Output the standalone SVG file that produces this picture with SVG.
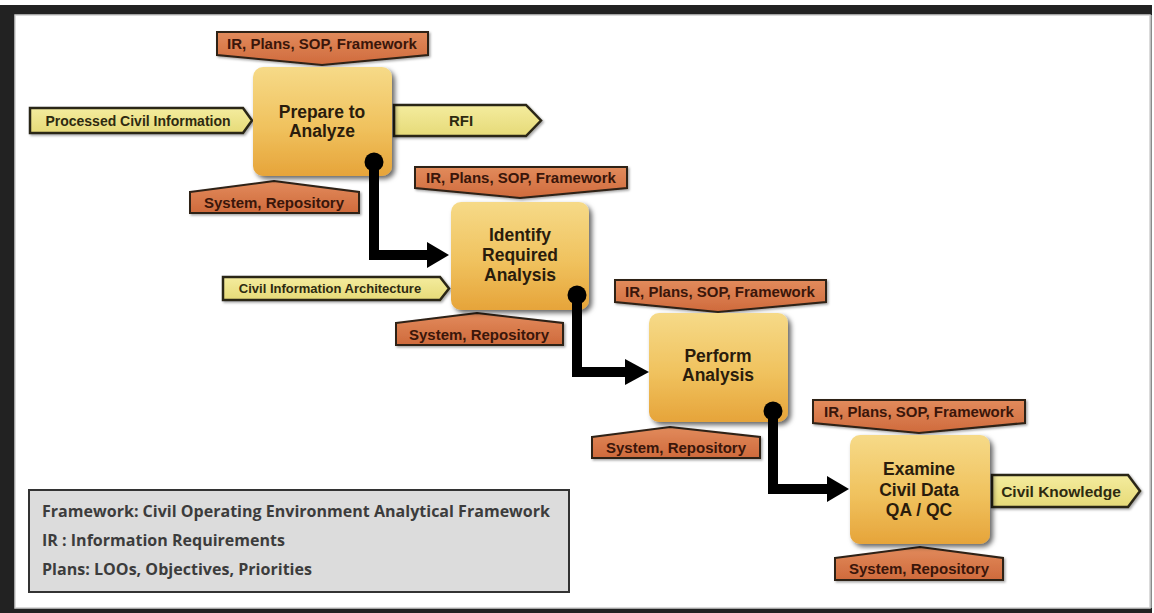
<svg xmlns="http://www.w3.org/2000/svg" width="1154" height="613" viewBox="0 0 1154 613">
<defs>
<linearGradient id="gBox" x1="0" y1="0" x2="0" y2="1">
<stop offset="0" stop-color="#f6da88"/>
<stop offset="0.55" stop-color="#f0c25e"/>
<stop offset="1" stop-color="#e6a43a"/>
</linearGradient>
<linearGradient id="gLab" x1="0" y1="0" x2="0" y2="1">
<stop offset="0" stop-color="#e28b5c"/>
<stop offset="1" stop-color="#cf6a3c"/>
</linearGradient>
<linearGradient id="gIn" x1="0" y1="0" x2="0" y2="1">
<stop offset="0" stop-color="#f4ec9e"/>
<stop offset="1" stop-color="#e6da78"/>
</linearGradient>
<filter id="sh" x="-20%" y="-20%" width="150%" height="150%">
<feDropShadow dx="3" dy="3" stdDeviation="2.5" flood-color="#000" flood-opacity="0.6"/>
</filter>
<filter id="sh2" x="-10%" y="-30%" width="120%" height="170%">
<feDropShadow dx="1.5" dy="1.5" stdDeviation="1" flood-color="#000" flood-opacity="0.35"/>
</filter>
</defs>
<style>
.box{fill:url(#gBox);filter:url(#sh);}
.bt{font-family:"Liberation Sans",Arial,sans-serif;font-weight:bold;font-size:17.5px;fill:#2a1c0c;text-anchor:middle;}
.lab{fill:url(#gLab);stroke:#2e2118;stroke-width:2;stroke-linejoin:miter;filter:url(#sh2);}
.lt{font-family:"Liberation Sans",Arial,sans-serif;font-weight:bold;font-size:15px;fill:#3a160a;text-anchor:middle;}
.inp{fill:url(#gIn);stroke:#2a2618;stroke-width:2.5;filter:url(#sh2);}
.it{font-family:"Liberation Sans",Arial,sans-serif;font-weight:bold;fill:#2e2a10;text-anchor:middle;}
.con{fill:none;stroke:#000;stroke-width:10;stroke-linejoin:miter;}
.leg{font-family:"Open Sans",sans-serif;font-weight:700;font-size:15.5px;fill:#3c3c3c;}
</style>
<rect x="0" y="0" width="1154" height="613" fill="#ffffff"/>
<rect x="0" y="5" width="1154" height="608" fill="#222222"/>
<rect x="15" y="15" width="1137" height="593" fill="#ffffff"/>
<rect x="1150" y="15" width="2" height="593" fill="#8a8a8a"/>
<rect x="1152" y="5" width="2" height="608" fill="#ffffff"/>
<rect x="15" y="15" width="1135" height="593" fill="none" stroke="#cfcfcf" stroke-width="1.5"/>

<g id="legend">
<rect x="29" y="490" width="540" height="102" fill="#dcdcdc" stroke="#333" stroke-width="2"/>
<text class="leg" x="42" y="517" textLength="508" lengthAdjust="spacingAndGlyphs">Framework: Civil Operating Environment Analytical Framework</text>
<text class="leg" x="42" y="546" textLength="243" lengthAdjust="spacingAndGlyphs">IR : Information Requirements</text>
<text class="leg" x="42" y="575" textLength="270" lengthAdjust="spacingAndGlyphs">Plans: LOOs, Objectives, Priorities</text>
</g>

<g id="node1">
<polygon class="lab" points="217,32 428,32 428,55 322,65 217,55"/>
<text class="lt" x="322" y="49">IR, Plans, SOP, Framework</text>
<polygon class="inp" points="30,108 243,108 252,120.5 243,133 30,133"/>
<text class="it" x="138" y="125.5" font-size="14">Processed Civil Information</text>
<polygon class="inp" points="394,105 526,105 541,120.5 526,136 394,136"/>
<text class="it" x="461" y="126" font-size="15">RFI</text>
<polygon class="lab" points="190,192 274,181 359,192 359,213 190,213"/>
<text class="lt" x="274" y="208">System, Repository</text>
<rect class="box" x="253" y="67" width="139" height="109" rx="10"/>
<text class="bt" x="322" y="118">Prepare to</text>
<text class="bt" x="322" y="137">Analyze</text>
</g>

<g id="node2">
<polygon class="lab" points="415,167 627,167 627,188 520,198 415,188"/>
<text class="lt" x="521" y="183">IR, Plans, SOP, Framework</text>
<polygon class="inp" points="223,277 440,277 449,288.5 440,300 223,300"/>
<text class="it" x="330" y="293" font-size="13">Civil Information Architecture</text>
<polygon class="lab" points="396,323 477,313 563,323 563,345 396,345"/>
<text class="lt" x="479" y="339.5">System, Repository</text>
<rect class="box" x="451" y="202" width="138" height="108" rx="10"/>
<text class="bt" x="520" y="241">Identify</text>
<text class="bt" x="520" y="261">Required</text>
<text class="bt" x="520" y="281">Analysis</text>
</g>

<g id="node3">
<polygon class="lab" points="615,280 826,280 826,302 718,312 615,302"/>
<text class="lt" x="720" y="296.5">IR, Plans, SOP, Framework</text>
<polygon class="lab" points="592,437 670,427 760,437 760,458 592,458"/>
<text class="lt" x="676" y="453">System, Repository</text>
<rect class="box" x="649" y="313" width="139" height="109" rx="10"/>
<text class="bt" x="718" y="362">Perform</text>
<text class="bt" x="718" y="381">Analysis</text>
</g>

<g id="node4">
<polygon class="lab" points="813,400 1025,400 1025,423 919,433 813,423"/>
<text class="lt" x="919" y="417">IR, Plans, SOP, Framework</text>
<polygon class="inp" points="992,475 1128,475 1140,491 1128,507 992,507"/>
<text class="it" x="1061" y="496.5" font-size="15.5">Civil Knowledge</text>
<polygon class="lab" points="835,558 920,547 1003,558 1003,580 835,580"/>
<text class="lt" x="919" y="574">System, Repository</text>
<rect class="box" x="850" y="435" width="140" height="109" rx="10"/>
<text class="bt" x="919" y="475">Examine</text>
<text class="bt" x="919" y="496">Civil Data</text>
<text class="bt" x="919" y="516">QA / QC</text>
</g>

<g id="connectors">
<path class="con" d="M374,162 V255 H430"/>
<polygon points="427,242 449,255 427,268" fill="#000"/>
<circle cx="374" cy="162" r="9.5" fill="#000"/>
<path class="con" d="M577,295 V372 H628"/>
<polygon points="625,359 649,372 625,385" fill="#000"/>
<circle cx="577" cy="295" r="9.5" fill="#000"/>
<path class="con" d="M773,411 V489 H830"/>
<polygon points="827,476 849,489 827,502" fill="#000"/>
<circle cx="773" cy="411" r="9.5" fill="#000"/>
</g>
</svg>
